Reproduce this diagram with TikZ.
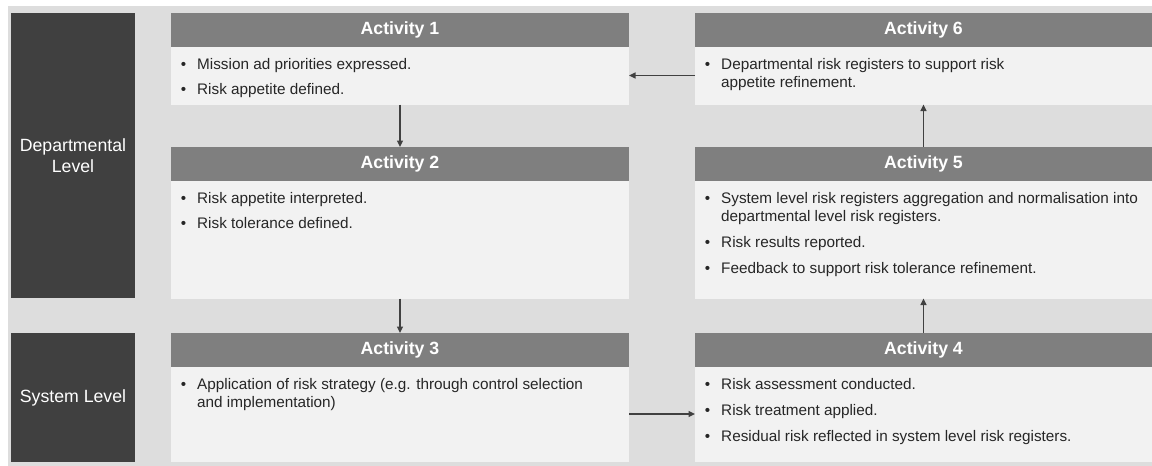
\documentclass[tikz,border=0pt]{standalone}
\usepackage{fontspec}
\setmainfont{Liberation Sans}
\usetikzlibrary{arrows.meta}
\definecolor{bgc}{HTML}{DDDDDD}
\definecolor{lvl}{HTML}{404040}
\definecolor{hdr}{HTML}{7F7F7F}
\definecolor{bdy}{HTML}{F2F2F2}
\definecolor{txc}{HTML}{262626}
\definecolor{arc}{HTML}{404040}
\tikzset{
  box/.style={rectangle, inner sep=0pt, outer sep=0pt, anchor=north west},
  lvlbox/.style={box, fill=lvl},
  hdrbox/.style={box, fill=hdr, minimum height=33.5pt},
  bdybox/.style={box, fill=bdy},
  lvltext/.style={text=white, align=center, font=\fontsize{17.7}{20.5}\selectfont, inner sep=0pt},
  hdrtext/.style={text=white, font=\bfseries\fontsize{17.7}{20}\selectfont, inner sep=0pt},
  txt/.style={text=txc, font=\fontsize{15.3}{18}\selectfont, inner sep=0pt, anchor=base west},
  bul/.style={text=txc, font=\fontsize{15.3}{18}\selectfont, inner sep=0pt, anchor=base},
  arr/.style={draw=arc, line width=1.3pt, -{Triangle[length=6.5pt,width=6pt]}}
}
\begin{document}
\begin{tikzpicture}[x=1pt,y=-1pt]
\useasboundingbox (0,0) rectangle (1152,466);
\fill[white] (0,0) rectangle (1152,466);
\fill[bgc] (8,6) rectangle (1152,466);

% level boxes
\node[lvlbox, minimum width=124pt, minimum height=285pt] (dep) at (11,13) {};
\node[lvlbox, minimum width=124pt, minimum height=129pt] (sys) at (11,333) {};
\node[lvltext] (deptext) at (dep.center) {Departmental\\Level};
\node[lvltext] (systext) at (sys.center) {System Level};

% Activity 1
\node[hdrbox, minimum width=458pt] (h1) at (171,13) {};
\node[bdybox, minimum width=458pt, minimum height=58pt] (b1) at (171,46.5) {};
\node[hdrtext] (t1) at (h1.center) {Activity 1};
% Activity 2
\node[hdrbox, minimum width=458pt] (h2) at (171,147) {};
\node[bdybox, minimum width=458pt, minimum height=118pt] (b2) at (171,180.5) {};
\node[hdrtext] (t2) at (h2.center) {Activity 2};
% Activity 3
\node[hdrbox, minimum width=458pt] (h3) at (171,333) {};
\node[bdybox, minimum width=458pt, minimum height=95pt] (b3) at (171,366.5) {};
\node[hdrtext] (t3) at (h3.center) {Activity 3};
% Activity 4
\node[hdrbox, minimum width=457pt] (h4) at (695,333) {};
\node[bdybox, minimum width=457pt, minimum height=95pt] (b4) at (695,366.5) {};
\node[hdrtext] (t4) at (h4.center) {Activity 4};
% Activity 5
\node[hdrbox, minimum width=457pt] (h5) at (695,147) {};
\node[bdybox, minimum width=457pt, minimum height=118pt] (b5) at (695,180.5) {};
\node[hdrtext] (t5) at (h5.center) {Activity 5};
% Activity 6
\node[hdrbox, minimum width=457pt] (h6) at (695,13) {};
\node[bdybox, minimum width=457pt, minimum height=58pt] (b6) at (695,46.5) {};
\node[hdrtext] (t6) at (h6.center) {Activity 6};

% Activity 1 text
\node[bul] (b1i1) at (183.5,69.5) {\textbullet};
\node[txt] (a1i1) at (197,69.5) {Mission ad priorities expressed.};
\node[bul] (b1i2) at (183.5,94.5) {\textbullet};
\node[txt] (a1i2) at (197,94.5) {Risk appetite defined.};
% Activity 2 text
\node[bul] (b2i1) at (183.5,203.5) {\textbullet};
\node[txt] (a2i1) at (197,203.5) {Risk appetite interpreted.};
\node[bul] (b2i2) at (183.5,228.5) {\textbullet};
\node[txt] (a2i2) at (197,228.5) {Risk tolerance defined.};
% Activity 3 text
\node[bul] (b3i1) at (183.5,389.5) {\textbullet};
\node[txt] (a3i1a) at (197,389.5) {Application of risk strategy (e.g. through control selection};
\node[txt] (a3i1b) at (197,407.5) {and implementation)};
% Activity 4 text
\node[bul] (b4i1) at (707.5,389.5) {\textbullet};
\node[txt] (a4i1) at (721,389.5) {Risk assessment conducted.};
\node[bul] (b4i2) at (707.5,415.5) {\textbullet};
\node[txt] (a4i2) at (721,415.5) {Risk treatment applied.};
\node[bul] (b4i3) at (707.5,441.5) {\textbullet};
\node[txt] (a4i3) at (721,441.5) {Residual risk reflected in system level risk registers.};
% Activity 5 text
\node[bul] (b5i1) at (707.5,203.5) {\textbullet};
\node[txt] (a5i1a) at (721,203.5) {System level risk registers aggregation and normalisation into};
\node[txt] (a5i1b) at (721,221.5) {departmental level risk registers.};
\node[bul] (b5i2) at (707.5,247.5) {\textbullet};
\node[txt] (a5i2) at (721,247.5) {Risk results reported.};
\node[bul] (b5i3) at (707.5,273.5) {\textbullet};
\node[txt] (a5i3) at (721,273.5) {Feedback to support risk tolerance refinement.};
% Activity 6 text
\node[bul] (b6i1) at (707.5,69.5) {\textbullet};
\node[txt] (a6i1a) at (721,69.5) {Departmental risk registers to support risk};
\node[txt] (a6i1b) at (721,87.5) {appetite refinement.};

% connectors
\draw[arr] (b1.south) -- (h2.north);
\draw[arr] (b2.south) -- (h3.north);
\draw[arr] (b3.east) -- (b4.west);
\draw[arr] (h4.north) -- (b5.south);
\draw[arr] (h5.north) -- (b6.south);
\draw[arr] (b6.west) -- (b1.east);
\end{tikzpicture}
\end{document}
